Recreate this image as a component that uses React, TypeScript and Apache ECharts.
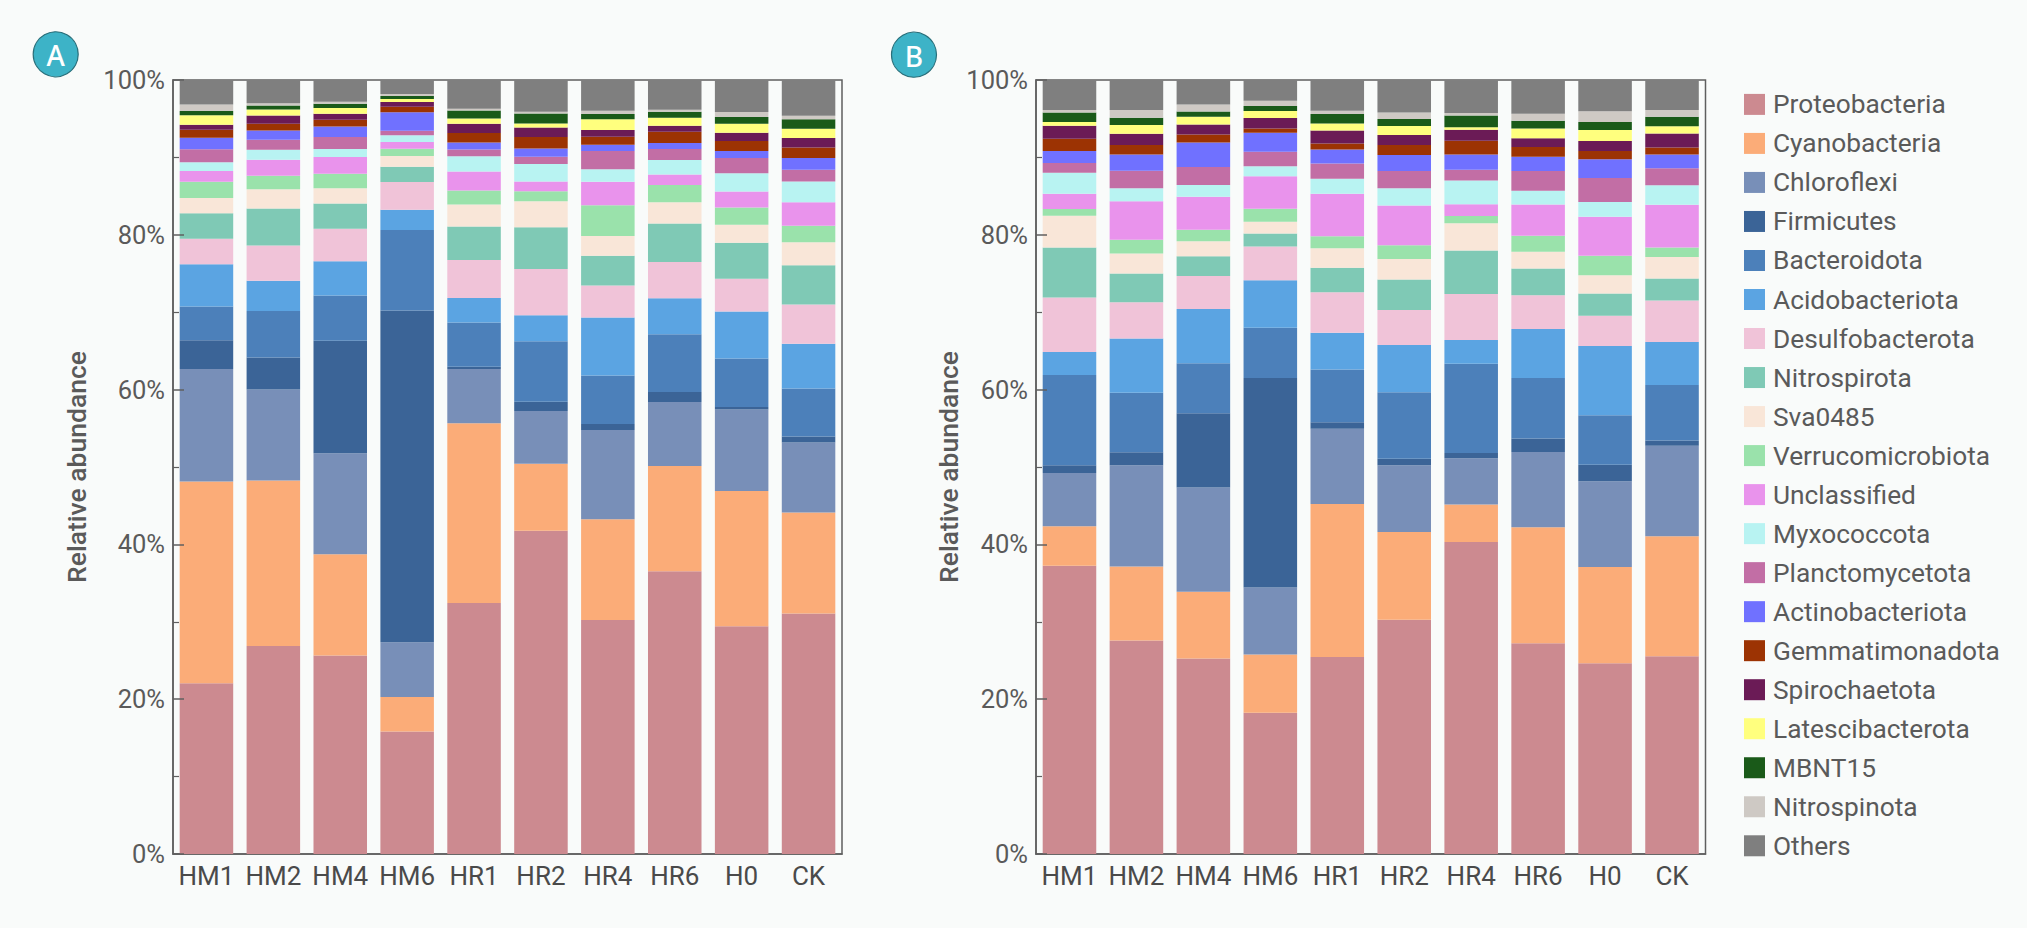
import React, { useEffect, useRef } from "react";
import * as echarts from "echarts";

const categories = ["HM1", "HM2", "HM4", "HM6", "HR1", "HR2", "HR4", "HR6", "H0", "CK"];
const taxa = ["Proteobacteria", "Cyanobacteria", "Chloroflexi", "Firmicutes", "Bacteroidota", "Acidobacteriota", "Desulfobacterota", "Nitrospirota", "Sva0485", "Verrucomicrobiota", "Unclassified", "Myxococcota", "Planctomycetota", "Actinobacteriota", "Gemmatimonadota", "Spirochaetota", "Latescibacterota", "MBNT15", "Nitrospinota", "Others"];
const colors = ["#cc8a90", "#fbac78", "#788fb8", "#3b6497", "#4c80ba", "#5ba4e2", "#f0c3d8", "#7fc9b5", "#f9e6d8", "#9ae2ab", "#e993ec", "#b8f3f2", "#c26ea5", "#7071ff", "#9c3303", "#6b1b56", "#ffff7e", "#1a5a19", "#cec9c4", "#7f7f7f"];

const proteoA = [22.06, 26.87, 25.66, 15.84, 32.43, 41.75, 30.23, 36.54, 29.42, 31.08];
const cyanoA = [26.07, 21.4, 13.08, 4.46, 23.21, 8.67, 13.03, 13.58, 17.49, 13.03];
const chloroA = [14.54, 11.73, 13.03, 7.07, 7.02, 6.82, 11.53, 8.27, 10.53, 9.07];
const firmiA = [3.71, 4.16, 14.54, 42.85, 0.3, 1.2, 0.75, 1.3, 0.3, 0.75];
const bacterA = [4.36, 6.01, 5.84, 10.39, 5.7, 7.82, 6.27, 7.47, 6.27, 6.22];
const acidoA = [5.47, 3.88, 4.44, 2.63, 3.19, 3.34, 7.51, 4.64, 6.08, 5.76];
const desulfoA = [3.28, 4.57, 4.18, 3.58, 4.91, 5.99, 4.14, 4.7, 4.22, 5.08];
const nitrospirA = [3.28, 4.78, 3.28, 1.98, 4.31, 5.39, 3.84, 4.96, 4.66, 5.09];
const svaA = [1.98, 2.5, 1.98, 1.38, 2.84, 3.36, 2.54, 2.76, 2.33, 2.97];
const verrucoA = [2.11, 1.72, 1.85, 0.95, 1.81, 1.29, 3.97, 2.2, 2.24, 2.11];
const unclassA = [1.38, 2.07, 2.16, 0.86, 2.46, 1.25, 3.06, 1.38, 2.07, 3.06];
const myxoA = [1.12, 1.29, 1.03, 0.86, 1.98, 2.28, 1.59, 1.85, 2.33, 2.67];
const planctoA = [1.68, 1.29, 1.55, 0.6, 0.86, 0.91, 2.37, 1.42, 1.98, 1.51];
const actinoA = [1.51, 1.21, 1.38, 2.37, 0.91, 1.08, 0.82, 0.78, 0.91, 1.51];
const gemmaA = [1.03, 0.86, 0.86, 0.73, 1.21, 1.47, 1.03, 1.47, 1.29, 1.38];
const spiroA = [0.65, 1.08, 0.78, 0.6, 1.21, 1.25, 0.86, 0.78, 1.08, 1.21];
const latesA = [1.21, 0.78, 0.73, 0.39, 0.69, 0.52, 1.38, 1.03, 1.16, 1.21];
const mbntA = [0.56, 0.52, 0.56, 0.39, 1.03, 1.29, 0.69, 0.78, 0.86, 1.21];
const nitrospinA = [0.82, 0.26, 0.26, 0.26, 0.22, 0.22, 0.43, 0.26, 0.65, 0.47];
const othersA = [3.19, 3.02, 2.8, 1.81, 3.71, 4.09, 3.97, 3.84, 4.14, 4.61];

const proteoB = [37.24, 27.57, 25.26, 18.25, 25.46, 30.28, 40.3, 27.22, 24.66, 25.56];
const cyanoB = [5.11, 9.57, 8.62, 7.52, 19.75, 11.33, 4.86, 14.99, 12.43, 15.49];
const chloroB = [6.87, 13.08, 13.48, 8.67, 9.72, 8.62, 5.96, 9.72, 11.08, 11.68];
const firmiB = [1.0, 1.7, 9.57, 27.07, 0.85, 0.85, 0.7, 1.75, 2.11, 0.7];
const bacterB = [11.68, 7.67, 6.47, 6.47, 6.82, 8.57, 11.53, 7.82, 6.42, 7.17];
const acidoB = [2.96, 7.02, 7.02, 6.16, 4.76, 6.12, 3.06, 6.32, 8.92, 5.56];
const desulfoB = [7.04, 4.67, 4.27, 4.35, 5.22, 4.5, 5.95, 4.38, 3.92, 5.34];
const nitrospirB = [6.47, 3.71, 2.54, 1.68, 3.15, 3.97, 5.6, 3.45, 2.89, 2.84];
const svaB = [4.09, 2.59, 1.94, 1.51, 2.54, 2.63, 3.53, 2.16, 2.33, 2.8];
const verrucoB = [0.86, 1.77, 1.47, 1.68, 1.55, 1.77, 0.95, 2.07, 2.54, 1.21];
const unclassB = [1.98, 5.0, 4.27, 4.22, 5.47, 5.13, 1.51, 4.05, 5.04, 5.52];
const myxoB = [2.72, 1.68, 1.51, 1.29, 1.94, 2.24, 3.06, 1.77, 1.9, 2.54];
const planctoB = [1.25, 2.24, 2.33, 1.85, 1.98, 2.24, 1.38, 2.54, 3.1, 2.2];
const actinoB = [1.55, 2.11, 3.19, 2.46, 1.81, 2.07, 1.98, 1.85, 2.41, 1.77];
const gemmaB = [1.59, 1.21, 1.03, 0.56, 0.78, 1.29, 1.77, 1.25, 1.08, 0.91];
const spiroB = [1.68, 1.47, 1.29, 1.34, 1.68, 1.29, 1.42, 1.12, 1.29, 1.81];
const latesB = [0.47, 1.12, 0.99, 0.91, 0.91, 1.16, 0.34, 1.29, 1.42, 0.91];
const mbntB = [1.25, 0.95, 0.69, 0.65, 1.21, 0.91, 1.51, 0.99, 1.03, 1.25];
const nitrospinB = [0.3, 0.99, 0.91, 0.69, 0.43, 0.82, 0.34, 0.91, 1.38, 0.86];
const othersB = [3.88, 3.88, 3.15, 2.67, 3.97, 4.22, 4.22, 4.35, 4.05, 3.88];

const panelA = [proteoA, cyanoA, chloroA, firmiA, bacterA, acidoA, desulfoA, nitrospirA, svaA, verrucoA, unclassA, myxoA, planctoA, actinoA, gemmaA, spiroA, latesA, mbntA, nitrospinA, othersA];
const panelB = [proteoB, cyanoB, chloroB, firmiB, bacterB, acidoB, desulfoB, nitrospirB, svaB, verrucoB, unclassB, myxoB, planctoB, actinoB, gemmaB, spiroB, latesB, mbntB, nitrospinB, othersB];

const FONT = "Roboto";
const AXIS = "#5f5f5f";

const badge = (cx: number, cy: number, label: string) => [
  { type: "circle", shape: { cx, cy, r: 22.5 }, style: { fill: "#3db3c7", stroke: "#2a6f7a", lineWidth: 1.2 } },
  {
    type: "text",
    x: cx,
    y: cy + 1,
    style: { text: label, fill: "#ffffff", font: `500 28px "Noto Sans"`, textAlign: "center", textVerticalAlign: "middle" },
  },
];

const xAxisFor = (gridIndex: number) => ({
  type: "category",
  gridIndex,
  data: categories,
  axisTick: { show: false },
  axisLine: { show: true, lineStyle: { color: AXIS, width: 1.5 } },
  axisLabel: { color: "#4a4a4a", fontFamily: FONT, fontSize: 26, margin: 9, interval: 0 },
});

const yAxisFor = (gridIndex: number, nameGap: number) => ({
  type: "value",
  gridIndex,
  min: 0,
  max: 100,
  interval: 20,
  z: 5,
  name: "Relative abundance",
  nameLocation: "middle",
  nameGap,
  nameTextStyle: { color: "#5a5a5a", fontFamily: FONT, fontSize: 26.5, fontWeight: 500 },
  axisLine: { show: true, lineStyle: { color: AXIS, width: 1.5 } },
  axisTick: { show: true, inside: true, length: 11, lineStyle: { color: AXIS, width: 1.5 } },
  minorTick: { show: true, splitNumber: 2, length: 6, lineStyle: { color: AXIS, width: 1.2 } },
  splitLine: { show: false },
  axisLabel: { color: "#5a5a5a", fontFamily: FONT, fontSize: 25.5, margin: 8, formatter: "{value}%" },
});

const seriesFor = (panel: number[][], idx: number) =>
  panel.map((data, i) => ({
    type: "bar",
    name: taxa[i],
    stack: `panel${idx}`,
    xAxisIndex: idx,
    yAxisIndex: idx,
    barWidth: "80%",
    data,
    itemStyle: { color: colors[i] },
  }));

export default function App() {
  const ref = useRef<HTMLDivElement>(null);
  useEffect(() => {
    document.body.style.margin = "0";
    const chart = echarts.init(ref.current!, undefined, { renderer: "svg" });
    chart.setOption({
      animation: false,
      backgroundColor: "#f9fbfa",
      color: colors,
      grid: [
        { left: 173, top: 80, width: 669, height: 774, show: true, borderColor: AXIS, borderWidth: 1.5, backgroundColor: "transparent" },
        { left: 1036, top: 80, width: 669.5, height: 774, show: true, borderColor: AXIS, borderWidth: 1.5, backgroundColor: "transparent" },
      ],
      xAxis: [xAxisFor(0), xAxisFor(1)],
      yAxis: [yAxisFor(0, 83), yAxisFor(1, 73)],
      legend: {
        orient: "vertical",
        left: 1744,
        top: 91.4,
        padding: 0,
        height: 800,
        data: taxa,
        icon: "rect",
        itemWidth: 21,
        itemHeight: 21,
        itemGap: 13.02,
        selectedMode: false,
        textStyle: { color: "#5a5a5a", fontFamily: FONT, fontSize: 26.3, padding: [0, 0, 0, 3], lineHeight: 21 },
      },
      graphic: { elements: [...badge(55.7, 54.3, "A"), ...badge(914, 54.7, "B")] },
      series: [...seriesFor(panelA, 0), ...seriesFor(panelB, 1)],
    });
    return () => chart.dispose();
  }, []);
  return <div ref={ref} style={{ width: 2027, height: 928 }} />;
}
